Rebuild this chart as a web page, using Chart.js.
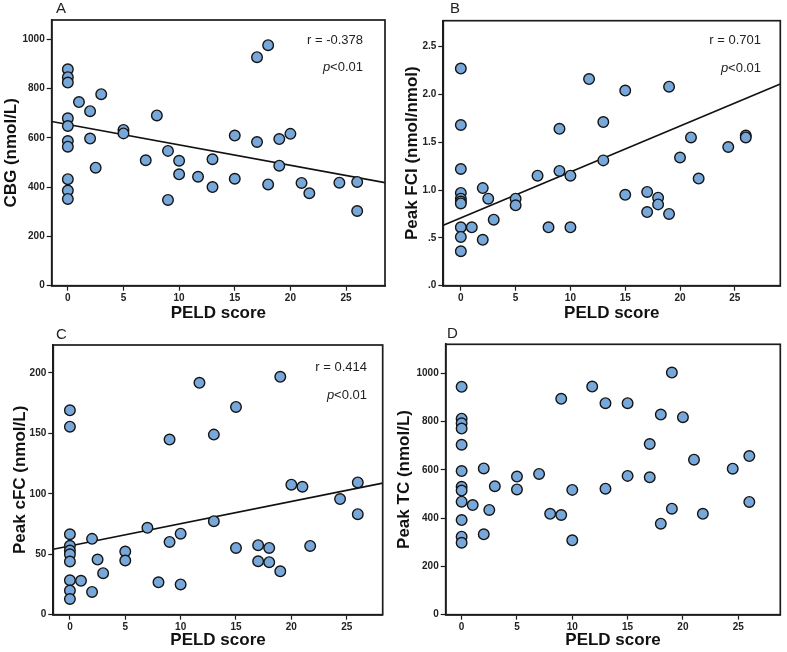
<!DOCTYPE html>
<html><head><meta charset="utf-8">
<script src="https://cdn.jsdelivr.net/npm/chart.js@4.4.1/dist/chart.umd.min.js"></script>
<style>
html,body{margin:0;padding:0;background:#fff;}
#wrap{position:relative;width:787px;height:652px;background:#fff;overflow:hidden;}
canvas{position:absolute;}
</style></head><body>
<div id="wrap">
<canvas id="cA" width="394" height="320" style="left:0;top:0"></canvas>
<canvas id="cB" width="393" height="320" style="left:394px;top:0"></canvas>
<canvas id="cC" width="394" height="332" style="left:0;top:320px"></canvas>
<canvas id="cD" width="393" height="332" style="left:394px;top:320px"></canvas>
</div>
<script>
// ---------- DATA ----------
const xTicks = [0, 5, 10, 15, 20, 25];
const xTitle = 'PELD score';

const peldA = [0,0,0,0,0,0,0,0,0,0, 1,2,2,2.5,3,5,5,7,8,9,9,10,10,11.7,13,13,15,15,17,17,18,18,19,19,20,21,21.7,24.4,26,26];
const cbg   = [878,846,824,679,648,587,564,432,386,352, 745,708,597,479,777,632,618,509,691,547,348,507,452,442,513,400,609,434,927,583,976,411,595,487,616,417,375,418,421,303];
const fitA_x = [-1.45, 28.5];
const fitA_y = [666, 418];
const yTicksA = [0, 200, 400, 600, 800, 1000];
const yLabelsA = ['0', '200', '400', '600', '800', '1000'];

const peldB = [0,0,0,0,0,0,0,0,0,0, 1,2,2,2.5,3,5,5,7,8,9,9,10,10,11.7,13,13,15,15,17,17,18,18,19,19,20,21,21.7,24.4,26,26];
const peakFCI = [2.27,1.68,1.22,0.97,0.91,0.88,0.86,0.61,0.51,0.36, 0.61,1.02,0.48,0.91,0.69,0.91,0.84,1.15,0.61,1.64,1.20,1.15,0.61,2.16,1.71,1.31,2.04,0.95,0.98,0.77,0.92,0.85,2.08,0.75,1.34,1.55,1.12,1.45,1.57,1.55];
const fitB_x = [-1.6, 29.15];
const fitB_y = [0.631, 2.109];
const yTicksB = [0, 0.5, 1.0, 1.5, 2.0, 2.5];
const yLabelsB = ['.0', '.5', '1.0', '1.5', '2.0', '2.5'];

const peldC = [0,0,0,0,0,0,0,0,0,0, 1,2,2,2.5,3,5,5,7,8,9,9,10,10,11.7,13,13,15,15,17,17,18,18,19,19,20,21,21.7,24.4,26,26];
const peakCFC = [169,155.5,66.5,57,53,50,44,28.5,20,13, 28,62.7,18.8,45.6,34.3,52.2,44.8,71.8,26.8,144.8,60.2,67,25,191.7,148.9,77.3,171.8,55.2,57.5,44.2,55.2,43.4,196.7,35.9,107.5,105.8,56.9,95.6,109.4,83.1];
const fitC_x = [-1.5, 28.25];
const fitC_y = [54.1, 108.8];
const yTicksC = [0, 50, 100, 150, 200];
const yLabelsC = ['0', '50', '100', '150', '200'];

const peldD = [0,0,0,0,0,0,0,0,0,0,0,0, 1,2,2,2.5,3,5,5,7,8,9,9,10,10,11.8,13,13,15,15,17,17,18,18,19,19,20,21,21.8,24.5,26,26];
const peakTC = [944,812,793,771,704,595,530,514,468,392,323,298, 454,606,333,434,532,572,519,583,418,894,413,517,308,945,876,522,876,575,707,569,829,377,1003,439,818,642,418,605,657,467];
const yTicksD = [0, 200, 400, 600, 800, 1000];
const yLabelsD = ['0', '200', '400', '600', '800', '1000'];

// ---------- RENDERING ----------
const FAM = "Arial, 'Liberation Sans', Helvetica, sans-serif";
const INK = '#1c1c1c';

function makePanel(id, o) {
  const pts = o.x.map((xv, i) => ({x: xv, y: o.y[i]}));
  const datasets = [{
    type: 'scatter', data: pts,
    backgroundColor: '#78A7D9', borderColor: '#141414', borderWidth: 1.4,
    pointRadius: 5.3, pointHoverRadius: 5.3, order: 1
  }];
  if (o.fitX) {
    datasets.push({
      type: 'line', data: o.fitX.map((xv, i) => ({x: xv, y: o.fitY[i]})),
      borderColor: '#111', borderWidth: 1.6, pointRadius: 0, fill: false, order: 2
    });
  }
  const deco = {
    id: 'deco',
    afterDraw(chart) {
      const ctx = chart.ctx, a = chart.chartArea;
      ctx.save();
      ctx.strokeStyle = INK; ctx.lineWidth = 1.7;
      ctx.strokeRect(a.left, a.top, a.right - a.left, a.bottom - a.top);
      ctx.fillStyle = '#222';
      ctx.textBaseline = 'middle';
      ctx.textAlign = 'left';
      ctx.font = '15px ' + FAM;
      ctx.fillText(o.letter, o.letterX, o.letterY);
      if (o.rText) {
        ctx.font = '13px ' + FAM;
        ctx.textAlign = 'right';
        ctx.fillText(o.rText, o.annX, o.rY);
        const rest = '<0.01';
        ctx.fillText(rest, o.annX, o.pY);
        const w = ctx.measureText(rest).width;
        ctx.font = 'italic 13px ' + FAM;
        ctx.fillText('p', o.annX - w, o.pY);
      }
      ctx.restore();
    }
  };
  const tickFont = {family: FAM, size: 10, weight: 'bold'};
  return new Chart(document.getElementById(id), {
    data: {datasets},
    plugins: [deco],
    options: {
      responsive: false, animation: false, events: [],
      layout: {padding: {left: 0, right: o.padR, top: o.padT, bottom: 0}},
      plugins: {legend: {display: false}, tooltip: {enabled: false}},
      scales: {
        x: {
          type: 'linear', min: o.xMin, max: o.xMax,
          afterBuildTicks: s => { s.ticks = xTicks.map(v => ({value: v})); },
          afterFit: s => { s.height = o.xH; },
          grid: {display: true, drawOnChartArea: false, drawTicks: true, tickLength: 5, tickWidth: 1.2, tickColor: INK},
          border: {display: true, color: INK, width: 1.7},
          ticks: {font: tickFont, color: '#222', padding: 2, maxRotation: 0, autoSkip: false,
                  callback: v => String(v)},
          title: {display: true, text: xTitle, color: '#111',
                  font: {family: FAM, size: 17, weight: 'bold', lineHeight: '14px'},
                  padding: {top: 0, bottom: o.xtPad}}
        },
        y: {
          type: 'linear', min: 0, max: o.yMax,
          afterBuildTicks: s => { s.ticks = o.yTicks.map(v => ({value: v})); },
          afterFit: s => { s.width = o.yW; },
          grid: {display: true, drawOnChartArea: false, drawTicks: true, tickLength: 5, tickWidth: 1.2, tickColor: INK},
          border: {display: true, color: INK, width: 1.7},
          ticks: {font: tickFont, color: '#222', padding: 2, autoSkip: false,
                  callback: v => { const i = o.yTicks.indexOf(v); return i >= 0 ? o.yLabels[i] : ''; }},
          title: {display: true, text: o.yTitle, color: '#111',
                  font: {family: FAM, size: 17, weight: 'bold', lineHeight: '14px'},
                  padding: {top: o.ytPad, bottom: 0}}
        }
      }
    }
  });
}

makePanel('cA', {x: peldA, y: cbg, fitX: fitA_x, fitY: fitA_y,
  yTicks: yTicksA, yLabels: yLabelsA, yMax: 1078, xMin: -1.45, xMax: 28.5,
  yTitle: 'CBG (nmol/L)', letter: 'A', letterX: 56, letterY: 9,
  rText: 'r = -0.378', annX: 363, rY: 40, pY: 67,
  padR: 9, padT: 20, yW: 51.7, xH: 34.3, xtPad: 0, ytPad: 4});

makePanel('cB', {x: peldB, y: peakFCI, fitX: fitB_x, fitY: fitB_y,
  yTicks: yTicksB, yLabels: yLabelsB, yMax: 2.77, xMin: -1.6, xMax: 29.15,
  yTitle: 'Peak FCI (nmol/nmol)', letter: 'B', letterX: 56, letterY: 9,
  rText: 'r = 0.701', annX: 367, rY: 40, pY: 68,
  padR: 3, padT: 20.7, yW: 49.3, xH: 34.3, xtPad: 0, ytPad: 11});

makePanel('cC', {x: peldC, y: peakCFC, fitX: fitC_x, fitY: fitC_y,
  yTicks: yTicksC, yLabels: yLabelsC, yMax: 223, xMin: -1.5, xMax: 28.25,
  yTitle: 'Peak cFC (nmol/L)', letter: 'C', letterX: 56, letterY: 15,
  rText: 'r = 0.414', annX: 367, rY: 47, pY: 75,
  padR: 11.3, padT: 25, yW: 53.3, xH: 37.3, xtPad: 5, ytPad: 13});

makePanel('cD', {x: peldD, y: peakTC, fitX: null, fitY: null,
  yTicks: yTicksD, yLabels: yLabelsD, yMax: 1120, xMin: -1.44, xMax: 28.8,
  yTitle: 'Peak TC (nmol/L)', letter: 'D', letterX: 53, letterY: 14,
  rText: null,
  padR: 5.3, padT: 24.3, yW: 51.7, xH: 37.3, xtPad: 5, ytPad: 3});
</script>
</body></html>
